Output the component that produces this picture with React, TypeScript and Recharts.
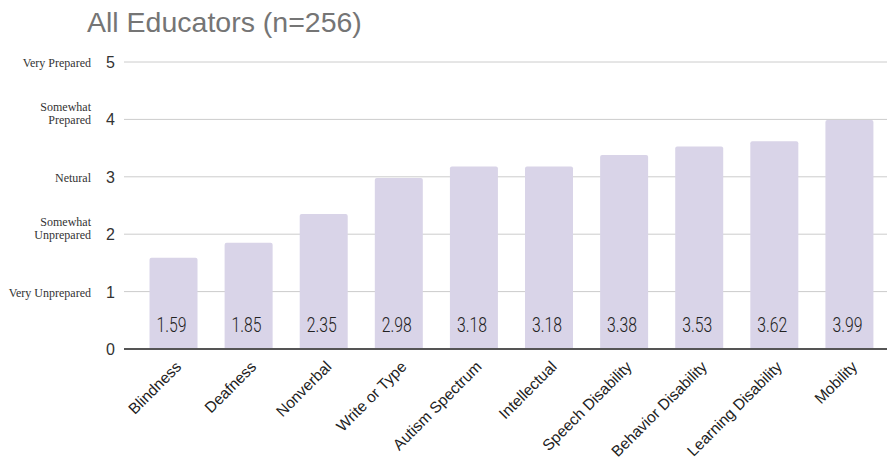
import React from "react"
import { BarChart, Bar, XAxis, YAxis, CartesianGrid, LabelList, ReferenceLine } from "recharts"

const categories = [
  "Blindness",
  "Deafness",
  "Nonverbal",
  "Write or Type",
  "Autism Spectrum",
  "Intellectual",
  "Speech Disability",
  "Behavior Disability",
  "Learning Disability",
  "Mobility",
]
const scores = [1.59, 1.85, 2.35, 2.98, 3.18, 3.18, 3.38, 3.53, 3.62, 3.99]

const yTicks = [0, 1, 2, 3, 4, 5]
const yDescriptors: Record<number, string[]> = {
  1: ["Very Unprepared"],
  2: ["Somewhat", "Unprepared"],
  3: ["Netural"],
  4: ["Somewhat", "Prepared"],
  5: ["Very Prepared"],
}

const data = categories.map((name, i) => ({ name, score: scores[i] }))

const BAR_COLOR = "#d9d4e8"

function YTick(props: any) {
  const { x, y, payload } = props
  const lines = yDescriptors[payload.value] || []
  return (
    <g>
      <text x={x - 1} y={y + 6} textAnchor="end" fontFamily="Arial, 'Liberation Sans'" fontSize={16} fill="#333">
        {payload.value}
      </text>
      {lines.map((line, i) => (
        <text
          key={line}
          x={91}
          y={y + 5 - (lines.length - 1 - i) * 13}
          textAnchor="end"
          fontFamily="'Liberation Serif', serif"
          fontSize={12}
          fill="#333"
        >
          {line}
        </text>
      ))}
    </g>
  )
}

function XTick(props: any) {
  const { x, y, payload } = props
  return (
    <g transform={`translate(${x + 1},${y + 3})`}>
      <text
        textAnchor="end"
        transform="rotate(-45)"
        dy="0.7em"
        fontFamily="Arial, 'Liberation Sans'"
        fontSize={15.5}
        fill="#222"
      >
        {payload.value}
      </text>
    </g>
  )
}

// value printed near the foot of each bar, in a narrow light face
function ValueLabel(props: any) {
  const { x, y, width, height, value } = props
  return (
    <text
      x={x + width / 2 - 2}
      y={y + height - 17}
      textAnchor="middle"
      fontFamily="Roboto, sans-serif"
      fontWeight={300}
      fontSize={21}
      textLength={30}
      lengthAdjust="spacingAndGlyphs"
      fill="#222"
    >
      {value.toFixed(2)}
    </text>
  )
}

export default function App() {
  return (
    <div style={{ position: "absolute", left: 0, top: 0, width: 889, height: 460, background: "#fff", overflow: "hidden" }}>
      <div
        style={{
          position: "absolute",
          left: 87,
          top: 6,
          fontFamily: "Arial, 'Liberation Sans'",
          fontSize: 28.5,
          color: "#757575",
          whiteSpace: "nowrap",
        }}
      >
        All Educators (n=256)
      </div>
      <BarChart
        width={889}
        height={460}
        data={data}
        margin={{ top: 62, right: 2, bottom: 0, left: 0 }}
        barCategoryGap="18%"
      >
        <CartesianGrid vertical={false} stroke="#cccccc" />
        <XAxis
          dataKey="name"
          interval={0}
          height={111}
          axisLine={false}
          tickLine={false}
          tick={<XTick />}
          padding={{ left: 12, right: 0 }}
        />
        <YAxis
          domain={[0, 5]}
          ticks={yTicks}
          width={124}
          axisLine={false}
          tickLine={false}
          tick={<YTick />}
        />
        <Bar dataKey="score" fill={BAR_COLOR} radius={[2, 2, 0, 0]} isAnimationActive={false}>
          <LabelList dataKey="score" content={<ValueLabel />} />
        </Bar>
        <ReferenceLine y={0} stroke="#555" strokeWidth={2} />
      </BarChart>
    </div>
  )
}
